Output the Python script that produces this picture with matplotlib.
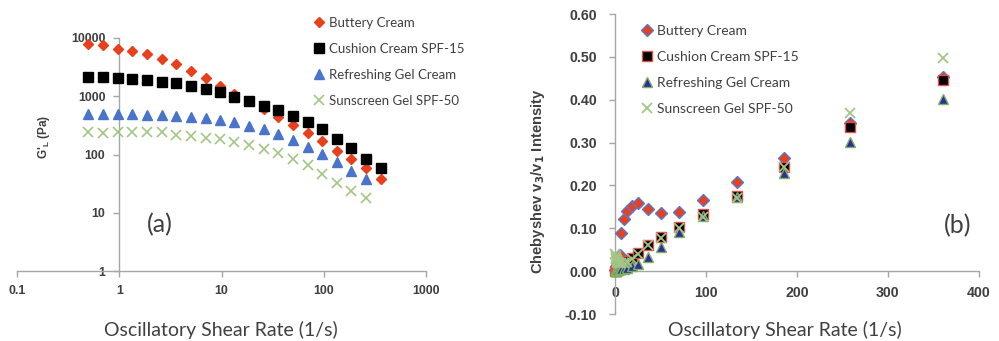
import matplotlib
matplotlib.use("Agg")
import matplotlib.pyplot as plt
from matplotlib.lines import Line2D

# ---------------- data ----------------
rate_a = [0.5, 0.7, 0.97, 1.34, 1.86, 2.59, 3.6, 5.0, 7.0, 9.7, 13.4,
          18.6, 25.8, 36, 50, 70, 97, 134, 186, 258, 360]
buttery_a = [8000, 7480, 6560, 5990, 5320, 4430, 3540, 2680, 2040, 1480, 1110,
             830, 615, 448, 327, 235, 171, 117, 84, 57.5, 37.8]
cushion_a = [2170, 2120, 2040, 1960, 1880, 1780, 1670, 1480, 1340, 1170, 987,
             832, 674, 576, 454, 363, 272, 188, 127, 84, 57.5]
rate_a20 = rate_a[:20]
refresh_a = [505, 505, 505, 491, 485, 479, 460, 442, 420, 398, 358,
             314, 272, 223, 174, 134, 101, 74, 53, 37.8]
sunscreen_a = [245, 238, 248, 241, 241, 241, 220, 206, 195, 183, 165,
               148, 125, 105, 85, 66, 47, 33, 24, 18]

rate_b = rate_a
buttery_b = [0.003, 0.004, 0.005, 0.007, 0.010, 0.014, 0.020, 0.038, 0.090, 0.122, 0.140,
             0.151, 0.158, 0.144, 0.136, 0.139, 0.166, 0.207, 0.263, 0.345, 0.452]
cushion_b = [0.000, 0.001, 0.002, 0.003, 0.004, 0.005, 0.007, 0.010, 0.014, 0.018, 0.024,
             0.031, 0.043, 0.060, 0.079, 0.104, 0.134, 0.176, 0.243, 0.337, 0.447]
refresh_b = [0.000, 0.000, 0.001, 0.001, 0.002, 0.002, 0.003, 0.004, 0.005, 0.006, 0.008,
             0.012, 0.017, 0.033, 0.057, 0.092, 0.128, 0.172, 0.230, 0.302, 0.402]
sunscreen_b = [0.040, 0.035, 0.030, 0.028, 0.025, 0.022, 0.020, 0.018, 0.018, 0.020, 0.022,
               0.028, 0.040, 0.060, 0.078, 0.101, 0.127, 0.170, 0.243, 0.368, 0.497]

labels = ["Buttery Cream", "Cushion Cream SPF-15", "Refreshing Gel Cream", "Sunscreen Gel SPF-50"]
a_xticks = [0.1, 1, 10, 100, 1000]
a_xticklabels = ["0.1", "1", "10", "100", "1000"]
a_yticks = [1, 10, 100, 1000, 10000]
a_yticklabels = ["1", "10", "100", "1000", "10000"]
b_xticks = [0, 100, 200, 300, 400]
b_yticks = [-0.10, 0.0, 0.10, 0.20, 0.30, 0.40, 0.50, 0.60]

TXT = "#404040"
SPINE = "#a6a6a6"
RED = "#e8401c"
BLUE = "#4a74c9"
GREEN = "#a3c585"
DBLUE = "#2b2f9c"

W, H = 999, 341
fig = plt.figure(figsize=(W / 100, H / 100), dpi=100)


def fr(x0, y0, x1, y1):
    return [x0 / W, 1 - y1 / H, (x1 - x0) / W, (y1 - y0) / H]


txtfont = "Lato"

# ---------------- panel (a) ----------------
ax = fig.add_axes(fr(17, 38, 426, 271))
ax.set_xscale("log")
ax.set_yscale("log")
ax.plot(rate_a, buttery_a, ls="none", marker="D", ms=5.2, color=RED, mec=RED, clip_on=False, zorder=3)
ax.plot(rate_a, cushion_a, ls="none", marker="s", ms=7, color="black", mec="black", clip_on=False, zorder=4)
ax.plot(rate_a20, refresh_a, ls="none", marker="^", ms=6.5, color=BLUE, mec=BLUE, clip_on=False, zorder=5)
ax.plot(rate_a20, sunscreen_a, ls="none", marker="x", ms=6.5, mew=1.2, color=GREEN, clip_on=False, zorder=6)
ax.set_xlim(0.1, 1000)
ax.set_ylim(1, 10000)
for s in ["top", "right"]:
    ax.spines[s].set_visible(False)
ax.spines["left"].set_position(("data", 1))
for s in ["left", "bottom"]:
    ax.spines[s].set_color(SPINE)
    ax.spines[s].set_linewidth(1.0)
ax.set_xticks(a_xticks)
ax.set_xticklabels(a_xticklabels)
ax.set_yticks(a_yticks)
ax.set_yticklabels(a_yticklabels)
ax.minorticks_off()
ax.tick_params(axis="both", which="both", color=SPINE, length=4, width=1.0,
               labelcolor=TXT, labelsize=8.9)
ax.tick_params(axis="x", pad=6)
ax.tick_params(axis="y", pad=6)
for lab in ax.get_xticklabels() + ax.get_yticklabels():
    lab.set_fontfamily("Liberation Sans")
    lab.set_fontweight("bold")
ax.patch.set_alpha(0)
fig.text(221 / W, 1 - 330 / H, "Oscillatory Shear Rate (1/s)", ha="center", va="center",
         fontsize=14, color=TXT, family=txtfont)
fig.text(160 / W, 1 - 225 / H, "(a)", ha="center", va="center", fontsize=18,
         color=TXT, family=txtfont)
fig.text(44 / W, 1 - 137 / H, r"G'$_\mathregular{L}$ (Pa)", ha="center", va="center",
         rotation=90, fontsize=8.5, color=TXT, family="Liberation Sans", weight="bold")

handles_a = [
    Line2D([], [], ls="none", marker="D", ms=5.2, color=RED, mec=RED),
    Line2D([], [], ls="none", marker="s", ms=7, color="black"),
    Line2D([], [], ls="none", marker="^", ms=6.5, color=BLUE),
    Line2D([], [], ls="none", marker="x", ms=6.5, mew=1.2, color=GREEN),
]
leg = fig.legend(handles_a, labels, loc="upper left", bbox_to_anchor=(314 / W, 1 - 17 / H),
                 frameon=False, handlelength=0.8, handletextpad=0.35, labelspacing=1.05,
                 borderpad=0, borderaxespad=0,
                 prop=dict(family=txtfont, size=9.5))
for t in leg.get_texts():
    t.set_color(TXT)

# ---------------- panel (b) ----------------
bx = fig.add_axes(fr(615, 14, 979, 314))
bx.plot(rate_b, buttery_b, ls="none", marker="D", ms=6, color=RED, mec="#5a78d0", mew=1.0, clip_on=False, zorder=3)
bx.plot(rate_b, cushion_b, ls="none", marker="s", ms=7.5, color="black", mec="#e05050", mew=1.0, clip_on=False, zorder=4)
bx.plot(rate_b, refresh_b, ls="none", marker="^", ms=7, color=DBLUE, mec="#7fb060", mew=1.0, clip_on=False, zorder=5)
bx.plot(rate_b, sunscreen_b, ls="none", marker="x", ms=7, mew=1.3, color=GREEN, clip_on=False, zorder=6)
bx.set_xlim(0, 400)
bx.set_ylim(-0.10, 0.60)
for s in ["top", "right"]:
    bx.spines[s].set_visible(False)
bx.spines["bottom"].set_position(("data", 0))
for s in ["left", "bottom"]:
    bx.spines[s].set_color(SPINE)
    bx.spines[s].set_linewidth(1.0)
bx.set_xticks(b_xticks)
bx.set_xticklabels([f"{v:d}" for v in b_xticks])
bx.set_yticks(b_yticks)
bx.set_yticklabels([f"{v:.2f}" for v in b_yticks])
bx.tick_params(axis="both", color=SPINE, length=4, width=1.0, labelcolor=TXT, labelsize=10.2)
bx.tick_params(axis="x", pad=7)
bx.tick_params(axis="y", pad=9)
for lab in bx.get_xticklabels() + bx.get_yticklabels():
    lab.set_fontfamily("Liberation Sans")
    lab.set_fontweight("bold")
bx.patch.set_alpha(0)
fig.text(785 / W, 1 - 330 / H, "Oscillatory Shear Rate (1/s)", ha="center", va="center",
         fontsize=14, color=TXT, family=txtfont)
fig.text(958 / W, 1 - 226 / H, "(b)", ha="center", va="center", fontsize=18,
         color=TXT, family=txtfont)
fig.text(538 / W, 1 - 181 / H, r"Chebyshev v$_\mathbf{3}$/v$_\mathbf{1}$ Intensity",
         ha="center", va="center", rotation=90, fontsize=10.6, color=TXT,
         family="Liberation Sans", weight="bold")

handles_b = [
    Line2D([], [], ls="none", marker="D", ms=6, color=RED, mec="#5a78d0"),
    Line2D([], [], ls="none", marker="s", ms=7.5, color="black", mec="#e05050"),
    Line2D([], [], ls="none", marker="^", ms=7, color=DBLUE, mec="#7fb060"),
    Line2D([], [], ls="none", marker="x", ms=7, mew=1.3, color=GREEN),
]
leg2 = fig.legend(handles_b, labels, loc="upper left", bbox_to_anchor=(641 / W, 1 - 25 / H),
                  frameon=False, handlelength=0.8, handletextpad=0.35, labelspacing=1.0,
                  borderpad=0, borderaxespad=0,
                  prop=dict(family=txtfont, size=10))
for t in leg2.get_texts():
    t.set_color(TXT)

fig.savefig("out.png", dpi=100)
